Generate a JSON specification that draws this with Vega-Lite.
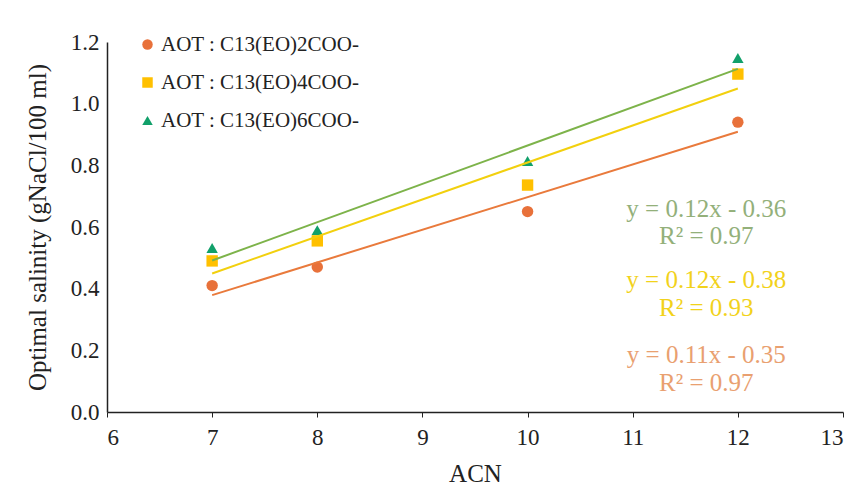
{
  "$schema": "https://vega.github.io/schema/vega-lite/v6.json",
  "width": 736,
  "height": 370,
  "autosize": "none",
  "padding": {"left": 107, "top": 42, "right": 13, "bottom": 77},
  "background": "white",
  "config": {
    "view": {"stroke": null},
    "font": "Liberation Serif",
    "axis": {"grid": false, "domainColor": "#222", "tickColor": "#222", "labelColor": "#222", "titleColor": "#222", "labelFont": "Liberation Serif", "titleFont": "Liberation Serif", "labelFontSize": 23, "titleFontSize": 25, "titleFontWeight": "normal"}
  },
  "datasets": {
    "points": [
      {"ACN": 7, "salinity": 0.41, "series": "AOT : C13(EO)2COO-"},
      {"ACN": 8, "salinity": 0.47, "series": "AOT : C13(EO)2COO-"},
      {"ACN": 10, "salinity": 0.65, "series": "AOT : C13(EO)2COO-"},
      {"ACN": 12, "salinity": 0.94, "series": "AOT : C13(EO)2COO-"},
      {"ACN": 7, "salinity": 0.49, "series": "AOT : C13(EO)4COO-"},
      {"ACN": 8, "salinity": 0.555, "series": "AOT : C13(EO)4COO-"},
      {"ACN": 10, "salinity": 0.736, "series": "AOT : C13(EO)4COO-"},
      {"ACN": 12, "salinity": 1.096, "series": "AOT : C13(EO)4COO-"},
      {"ACN": 7, "salinity": 0.532, "series": "AOT : C13(EO)6COO-"},
      {"ACN": 8, "salinity": 0.59, "series": "AOT : C13(EO)6COO-"},
      {"ACN": 10, "salinity": 0.814, "series": "AOT : C13(EO)6COO-"},
      {"ACN": 12, "salinity": 1.148, "series": "AOT : C13(EO)6COO-"}
    ],
    "labels": [
      {"ACN": 11.7, "salinity": 0.66, "text": "y = 0.12x - 0.36", "series": "AOT : C13(EO)6COO-"},
      {"ACN": 11.7, "salinity": 0.571, "text": "R² = 0.97", "series": "AOT : C13(EO)6COO-"},
      {"ACN": 11.7, "salinity": 0.428, "text": "y = 0.12x - 0.38", "series": "AOT : C13(EO)4COO-"},
      {"ACN": 11.7, "salinity": 0.337, "text": "R² = 0.93", "series": "AOT : C13(EO)4COO-"},
      {"ACN": 11.7, "salinity": 0.185, "text": "y = 0.11x - 0.35", "series": "AOT : C13(EO)2COO-"},
      {"ACN": 11.7, "salinity": 0.094, "text": "R² = 0.97", "series": "AOT : C13(EO)2COO-"}
    ]
  },
  "encoding": {
    "x": {"field": "ACN", "type": "quantitative", "scale": {"domain": [6, 13], "nice": false}, "axis": {"title": "ACN", "values": [6,7,8,9,10,11,12,13], "labelOverlap": false, "tickSize": 5, "labelPadding": 9, "titlePadding": 12, "domainWidth": 1.5}},
    "y": {"field": "salinity", "type": "quantitative", "scale": {"domain": [0, 1.2], "nice": false}, "axis": {"title": "Optimal salinity (gNaCl/100 ml)", "values": [0,0.2,0.4,0.6,0.8,1.0,1.2], "labelOverlap": false, "format": ".1f", "ticks": false, "labelPadding": 8, "titlePadding": 20, "domainWidth": 1.5}}
  },
  "layer": [
    {
      "data": {"name": "points"},
      "mark": {"type": "point", "filled": true, "opacity": 1, "size": 130},
      "encoding": {
        "color": {"field": "series", "type": "nominal", "scale": {"domain": ["AOT : C13(EO)2COO-", "AOT : C13(EO)4COO-", "AOT : C13(EO)6COO-"], "range": ["#E8713A", "#FFC000", "#11A06A"]},
          "legend": {"title": null, "orient": "none", "legendX": 30, "legendY": -8, "labelFont": "Liberation Serif", "labelFontSize": 21, "labelColor": "#222", "labelLimit": 400, "symbolSize": 110, "rowPadding": 16, "labelOffset": 3, "symbolStrokeWidth": 0}},
        "shape": {"field": "series", "type": "nominal", "scale": {"domain": ["AOT : C13(EO)2COO-", "AOT : C13(EO)4COO-", "AOT : C13(EO)6COO-"], "range": ["circle", "square", "triangle-up"]},
          "legend": {"title": null, "orient": "none", "legendX": 30, "legendY": -8, "labelFont": "Liberation Serif", "labelFontSize": 21, "labelColor": "#222", "labelLimit": 400, "symbolSize": 110, "rowPadding": 16, "labelOffset": 3, "symbolStrokeWidth": 0}}
      }
    },
    {
      "data": {"name": "points"},
      "transform": [{"regression": "salinity", "on": "ACN", "groupby": ["series"], "extent": [7, 12]}],
      "mark": {"type": "line", "strokeWidth": 2},
      "encoding": {
        "stroke": {"field": "series", "type": "nominal", "legend": null, "scale": {"domain": ["AOT : C13(EO)6COO-", "AOT : C13(EO)4COO-", "AOT : C13(EO)2COO-"], "range": ["#7DB34A", "#F2D00E", "#E97A3C"]}}
      }
    },
    {
      "data": {"name": "labels"},
      "mark": {"type": "text", "fontSize": 25, "font": "Liberation Serif", "align": "center", "baseline": "middle"},
      "encoding": {
        "text": {"field": "text"},
        "fill": {"field": "series", "type": "nominal", "legend": null, "scale": {"domain": ["AOT : C13(EO)4COO-", "AOT : C13(EO)6COO-", "AOT : C13(EO)2COO-"], "range": ["#F2D21B", "#93B07A", "#E9A070"]}}
      }
    }
  ]
}
